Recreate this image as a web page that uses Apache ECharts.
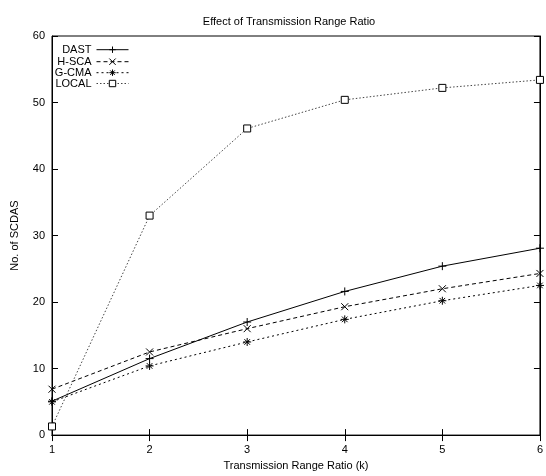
<!DOCTYPE html>
<html>
<head>
<meta charset="utf-8">
<script src="https://cdn.jsdelivr.net/npm/echarts@6/dist/echarts.min.js"></script>
<style>
  html, body { margin: 0; padding: 0; background: #fff; }
  #chart { width: 546px; height: 476px; }
</style>
</head>
<body>
<div id="chart"></div>
<script>
// data
const ratios = [1, 2, 3, 4, 5, 6]
const dast = [5.1, 11.5, 17.0, 21.6, 25.4, 28.1]
const hsca = [6.9, 12.5, 16.0, 19.3, 22.0, 24.3]
const gcma = [5.0, 10.4, 14.0, 17.4, 20.2, 22.5]
const local = [1.3, 33.0, 46.1, 50.4, 52.2, 53.4]
const yTicks = [0, 10, 20, 30, 40, 50, 60]

const FONT = '"Liberation Sans", Arial, Helvetica, sans-serif'

// gnuplot style point types
const SYM_PLUS = 'path://M0,5L10,5M5,0L5,10'
const SYM_CROSS = 'path://M0,0L10,10M10,0L0,10'
const SYM_STAR = 'path://M0,5L10,5M5,0L5,10M1.5,1.5L8.5,8.5M8.5,1.5L1.5,8.5'

function pairs(ys) {
    return ratios.map((x, i) => [x, ys[i]])
}

function mkSeries(name, ys, symbol, size, lineType, color) {
    return {
        name,
        type: 'line',
        data: pairs(ys),
        symbol,
        symbolSize: size,
        showAllSymbol: true,
        lineStyle: { color, width: 1, type: lineType },
        itemStyle: {
            color: symbol === 'rect' ? '#fff' : 'none',
            borderColor: '#000',
            borderWidth: 1
        },
        emphasis: { disabled: true },
        animation: false
    }
}

const seriesList = [
    mkSeries('DAST', dast, SYM_PLUS, 8, 'solid', '#000'),
    mkSeries('H-SCA', hsca, SYM_CROSS, 7, [4, 3], '#000'),
    mkSeries('G-CMA', gcma, SYM_STAR, 8, [2, 3], '#000'),
    mkSeries('LOCAL', local, 'rect', 7, [1.5, 2], '#444')
]

// one legend per entry so the text ends at the same x (gnuplot key)
const legendTops = [44, 56, 67, 78]
const legends = seriesList.map((s, i) => ({
    data: [s.name],
    top: legendTops[i],
    right: 546 - 129,
    align: 'right',
    itemWidth: 32,
    itemHeight: 8,
    itemGap: 0,
    padding: 0,
    selectedMode: false,
    lineStyle: { width: 1 },
    itemStyle: { borderWidth: 1 },
    textStyle: { fontFamily: FONT, fontSize: 11, color: '#000' }
}))

const axisText = { fontFamily: FONT, fontSize: 11, color: '#000' }

const option = {
    animation: false,
    title: {
        text: 'Effect of Transmission Range Ratio',
        left: 284,
        top: 11,
        textAlign: 'center',
        textStyle: { fontFamily: FONT, fontSize: 11, fontWeight: 'normal', color: '#000' }
    },
    legend: legends,
    grid: {
        left: 52, right: 3, top: 36, bottom: 40,
        show: true, borderColor: '#000', borderWidth: 1
    },
    xAxis: [
        {
            type: 'value', min: 1, max: 6, interval: 1,
            name: 'Transmission Range Ratio (k)',
            nameLocation: 'middle', nameGap: 24,
            nameTextStyle: axisText,
            axisLine: { show: true, lineStyle: { color: '#000' } },
            axisTick: { inside: true, length: 6, lineStyle: { color: '#000' } },
            axisLabel: Object.assign({ margin: 9 }, axisText),
            splitLine: { show: false }
        },
        {
            type: 'value', min: 1, max: 6, interval: 1, position: 'top',
            axisLine: { show: true, lineStyle: { color: '#000' } },
            axisTick: { inside: true, length: 6, lineStyle: { color: '#000' } },
            axisLabel: { show: false },
            splitLine: { show: false }
        }
    ],
    yAxis: [
        {
            type: 'value', min: yTicks[0], max: yTicks[yTicks.length - 1], interval: 10,
            name: 'No. of SCDAS',
            nameLocation: 'middle', nameGap: 32,
            nameTextStyle: axisText,
            axisLine: { show: true, lineStyle: { color: '#000' } },
            axisTick: { inside: true, length: 6, lineStyle: { color: '#000' } },
            axisLabel: Object.assign({ margin: 7 }, axisText),
            splitLine: { show: false }
        },
        {
            type: 'value', min: yTicks[0], max: yTicks[yTicks.length - 1], interval: 10, position: 'right',
            axisLine: { show: true, lineStyle: { color: '#000' } },
            axisTick: { inside: true, length: 6, lineStyle: { color: '#000' } },
            axisLabel: { show: false },
            splitLine: { show: false }
        }
    ],
    series: seriesList
}

const myChart = echarts.init(document.getElementById('chart'), null, { renderer: 'canvas' })
myChart.setOption(option)
</script>
</body>
</html>
